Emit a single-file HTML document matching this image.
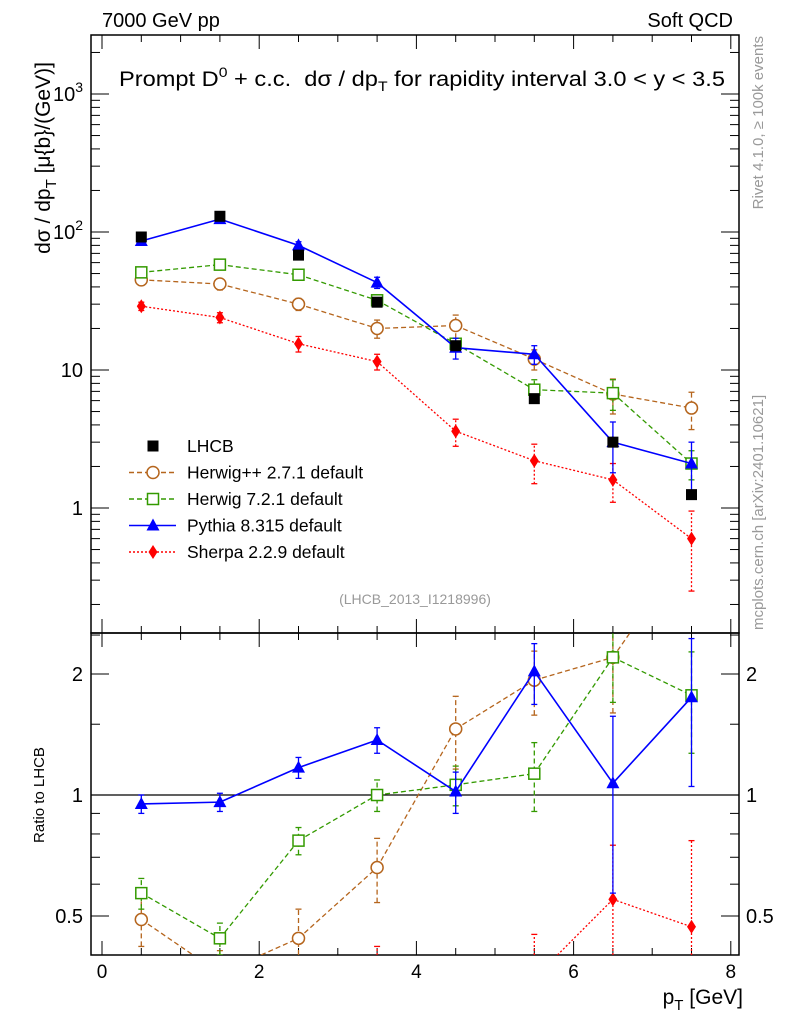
<!DOCTYPE html>
<html><head><meta charset="utf-8"><style>
html,body{margin:0;background:#fff;overflow:hidden;width:786px;height:1024px;}
svg{display:block;}
svg text{font-family:"Liberation Sans",sans-serif;}
</style></head><body>
<svg id="c" width="786" height="1024" viewBox="0 0 786 1024" xmlns="http://www.w3.org/2000/svg">
<defs>
<clipPath id="cm"><rect x="91" y="35" width="648" height="598"/></clipPath>
<clipPath id="cr"><rect x="91" y="633" width="648" height="322"/></clipPath>
</defs>
<rect x="91" y="35" width="648" height="598" fill="none" stroke="#000" stroke-width="1.5"/>
<rect x="91" y="633" width="648" height="322" fill="none" stroke="#000" stroke-width="1.5"/>
<text x="102" y="27" font-size="20">7000 GeV pp</text>
<text x="733" y="27" font-size="20" text-anchor="end">Soft QCD</text>
<text x="119" y="86" font-size="21" textLength="606" lengthAdjust="spacingAndGlyphs" xml:space="preserve">Prompt D<tspan dy="-9" font-size="14">0</tspan><tspan dy="9"> + c.c.  dσ / dp</tspan><tspan dy="5" font-size="14">T</tspan><tspan dy="-5"> for rapidity interval 3.0 &lt; y &lt; 3.5</tspan></text>
<text transform="translate(50,158) rotate(-90)" font-size="21" text-anchor="middle">dσ / dp<tspan dy="6" font-size="15">T</tspan><tspan dy="-6"> [μ{b}/(GeV)]</tspan></text>
<text transform="translate(44,795) rotate(-90)" font-size="15" text-anchor="middle">Ratio to LHCB</text>
<text x="743" y="1004" font-size="21" text-anchor="end">p<tspan dy="6" font-size="15">T</tspan><tspan dy="-6"> [GeV]</tspan></text>
<text transform="translate(763,36) rotate(-90)" font-size="15" fill="#999" text-anchor="end">Rivet 4.1.0, ≥ 100k events</text>
<text transform="translate(763,630) rotate(-90)" font-size="15" fill="#999">mcplots.cern.ch [arXiv:2401.10621]</text>
<text x="415" y="604" font-size="14" fill="#999" text-anchor="middle">(LHCB_2013_I1218996)</text>
<line x1="91" y1="795" x2="739" y2="795" stroke="#000" stroke-width="1.2"/>
<g id="ax"></g>
<g id="main" clip-path="url(#cm)"></g>
<g id="ratio" clip-path="url(#cr)"></g>
<g id="leg"></g>
</svg>
<script>
const xs=[0.5,1.5,2.5,3.5,4.5,5.5,6.5,7.5];
const lhcb=[92,130,68,31,15,6.2,3.0,1.25];
const pythia=[86,124,80,43,14.5,13,3.0,2.1];
const pythiaErr=[5,7,5,4,2.5,2,1.2,0.9];
const herwig7=[51,58,49,32,15.5,7.2,6.8,2.1];
const herwig7Err=[3,3,3,2,1.5,1.3,1.7,0.5];
const herwigpp=[45,42,30,20,21,12,6.7,5.3];
const herwigppErr=[4,4,3,3,4,2,1.9,1.6];
const sherpa=[29,24,15.5,11.5,3.6,2.2,1.6,0.6];
const sherpaErr=[2,2,2,1.5,0.8,0.7,0.5,0.35];
const rPythia=[0.95,0.96,1.17,1.37,1.02,2.03,1.07,1.75];
const rPythiaErr=[0.05,0.05,0.07,0.1,0.12,0.35,0.5,0.7];
const rHerwig7=[0.57,0.44,0.77,1.0,1.06,1.13,2.2,1.77];
const rHerwig7Err=[0.05,0.04,0.06,0.09,0.12,0.22,0.5,0.5];
const rHerwigpp=[0.49,0.36,0.44,0.66,1.46,1.93,2.2,4.2];
const rHerwigppErr=[0.07,0.05,0.08,0.12,0.3,0.35,0.6,1.2];
const rSherpa=[0.32,0.18,0.23,0.37,0.24,0.35,0.55,0.47];
const rSherpaErr=[0.03,0.02,0.03,0.05,0.06,0.1,0.2,0.3];
const xTicks=[0,2,4,6,8];
const yTicksMain=[1,10,100,1000];
const yTickLabels=["1","10","10²","10³"];
const rTicks=[0.5,1,2];

const NS="http://www.w3.org/2000/svg";
const X=v=>102+78.6*v;
const Y=v=>508-138*Math.log10(v);
const R=v=>795-121*Math.log2(v);
function mk(tag,attrs,parent){const e=document.createElementNS(NS,tag);for(const k in attrs)e.setAttribute(k,attrs[k]);parent.appendChild(e);return e;}
const ax=document.getElementById('ax');
xTicks.forEach(t=>{
  [[955,-14],[633,14],[633,-14],[35,14]].forEach(([y,d])=>{const l=mk('line',{x1:X(t),x2:X(t),y1:y,y2:y+d,stroke:'#000'},ax);});
  const tx=mk('text',{x:X(t),y:978,'font-size':19,'text-anchor':'middle'},ax);tx.textContent=t;
  
});
for(let m=0.5;m<8.3;m+=0.5){if(m%2===0)continue;[[955,-7],[633,7],[633,-7],[35,7]].forEach(([y,d])=>{const l=mk('line',{x1:X(m),x2:X(m),y1:y,y2:y+d,stroke:'#000'},ax);});}
yTicksMain.forEach((t,i)=>{
  [[91,18],[739,-18]].forEach(([x,d])=>{const l=mk('line',{x1:x,x2:x+d,y1:Y(t),y2:Y(t),stroke:'#000'},ax);});
  const tx=mk('text',{x:83,y:Y(t)+7,'font-size':20,'text-anchor':'end'},ax);
  if(t>=100){tx.textContent='10';const s=mk('tspan',{dy:-9,'font-size':14},tx);s.textContent=String(Math.log10(t));}else tx.textContent=yTickLabels[i];
  
});
for(let d=0.1;d<3000;d*=10){for(let k=2;k<10;k++){const v=d*k,y=Y(v);if(y<36||y>632)continue;[[91,9],[739,-9]].forEach(([x,dd])=>{const l=mk('line',{x1:x,x2:x+dd,y1:y,y2:y,stroke:'#000'},ax);});}}
rTicks.forEach(t=>{
  [[91,18],[739,-18]].forEach(([x,d])=>{const l=mk('line',{x1:x,x2:x+d,y1:R(t),y2:R(t),stroke:'#000'},ax);});
  [[83,'end'],[746,'start']].forEach(([x,a])=>{const tx=mk('text',{x:x,y:R(t)+7,'font-size':20,'text-anchor':a},ax);tx.textContent=t;});
});
[0.4,0.6,0.7,0.8,0.9,1.5,2.5].forEach(v=>{const y=R(v);if(y<634||y>954)return;[[91,9],[739,-9]].forEach(([x,d])=>{const l=mk('line',{x1:x,x2:x+d,y1:y,y2:y,stroke:'#000'},ax);});});

function marker(g,kind,x,y,col){
  let e;
  if(kind==='sq')e=mk('rect',{x:x-5.5,y:y-5.5,width:11,height:11,fill:'#000'},g);
  else if(kind==='circ')e=mk('circle',{cx:x,cy:y,r:6,fill:'#fff',stroke:col,'stroke-width':1.5},g);
  else if(kind==='osq')e=mk('rect',{x:x-5.5,y:y-5.5,width:11,height:11,fill:'#fff',stroke:col,'stroke-width':1.5},g);
  else if(kind==='tri')e=mk('polygon',{points:`${x},${y-7} ${x-6.5},${y+5} ${x+6.5},${y+5}`,fill:col},g);
  else e=mk('polygon',{points:`${x},${y-7} ${x-4.5},${y} ${x},${y+7} ${x+4.5},${y}`,fill:col},g);
  return e;
}
// clip a segment to [top,bot] in y
function clipSeg(x1,y1,x2,y2,top,bot){
  let t0=0,t1=1;const dy=y2-y1;
  if(dy===0){if(y1<top||y1>bot)return null;}
  else{
    let ta=(top-y1)/dy,tb=(bot-y1)/dy;if(ta>tb){const t=ta;ta=tb;tb=t;}
    t0=Math.max(t0,ta);t1=Math.min(t1,tb);if(t0>=t1)return null;
  }
  return [x1+(x2-x1)*t0,y1+dy*t0,x1+(x2-x1)*t1,y1+dy*t1];
}
const series=[
 {name:'herwigpp',vals:herwigpp,err:herwigppErr,r:rHerwigpp,re:rHerwigppErr,col:'#b5651d',dash:'5,3',kind:'circ',w:1.3},
 {name:'herwig7',vals:herwig7,err:herwig7Err,r:rHerwig7,re:rHerwig7Err,col:'#339a00',dash:'5,3',kind:'osq',w:1.3},
 {name:'sherpa',vals:sherpa,err:sherpaErr,r:rSherpa,re:rSherpaErr,col:'#ff0000',dash:'2,2',kind:'dia',w:1.3},
 {name:'pythia',vals:pythia,err:pythiaErr,r:rPythia,re:rPythiaErr,col:'#0000ff',dash:'',kind:'tri',w:1.6},
];
const gm=document.getElementById('main'),gr=document.getElementById('ratio');
series.forEach(s=>{
  [[gm,s.vals,s.err,Y,'main',35,633],[gr,s.r,s.re,R,'ratio',633,955]].forEach(([g,vals,err,F,p,top,bot])=>{
    const cl=y=>Math.min(bot,Math.max(top,y));
    for(let i=0;i<xs.length-1;i++){
      const c=clipSeg(X(xs[i]),F(vals[i]),X(xs[i+1]),F(vals[i+1]),top,bot);
      if(!c)continue;
      const ln=mk('line',{x1:c[0],y1:c[1],x2:c[2],y2:c[3],stroke:s.col,'stroke-width':s.w,'stroke-dasharray':s.dash},g);
      
      
    }
    xs.forEach((x,i)=>{
      const lo=Math.max(vals[i]-err[i],1e-3),hi=vals[i]+err[i];
      const yl=cl(F(lo)),yh=cl(F(hi));
      if(yl>yh){
        const eb=mk('line',{x1:X(x),x2:X(x),y1:yl,y2:yh,stroke:s.col,'stroke-width':1.3,'stroke-dasharray':s.dash},g);
        
        
      }
      [F(lo),F(hi)].forEach(y=>{if(y<top||y>bot)return;const c=mk('line',{x1:X(x)-3,x2:X(x)+3,y1:y,y2:y,stroke:s.col,'stroke-width':1.3},g);
        
        });
      const py=F(vals[i]);
      if(py>=top&&py<=bot){
        const m=marker(g,s.kind,X(x),py,s.col);
        
        
      }
    });
  });
});
xs.forEach((x,i)=>{const m=marker(gm,'sq',X(x),Y(lhcb[i]),'#000');
  
  });
const lg=document.getElementById('leg');
const entries=[['sq','#000','','LHCB'],['circ','#b5651d','5,3','Herwig++ 2.7.1 default'],['osq','#339a00','5,3','Herwig 7.2.1 default'],['tri','#0000ff','','Pythia 8.315 default'],['dia','#ff0000','2,2','Sherpa 2.2.9 default']];
entries.forEach((e,i)=>{
  const y=446+i*26.5,g=mk('g',{},lg);
  
  
  if(i>0)mk('line',{x1:129,x2:176,y1:y,y2:y,stroke:e[1],'stroke-width':1.5,'stroke-dasharray':e[2]},g);
  marker(g,e[0],153,y,e[1]);
  const t=mk('text',{x:187,y:y+6,'font-size':17.5},g);t.textContent=e[3];
});
</script>
</body></html>
